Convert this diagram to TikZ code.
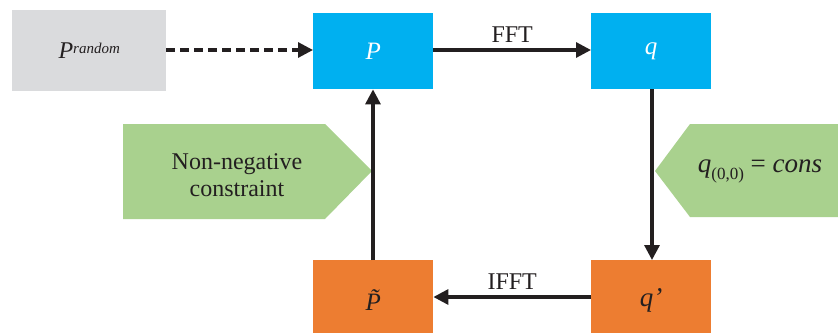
\documentclass[tikz,border=0pt]{standalone}
\usepackage{fontspec}
\setmainfont{Liberation Serif}
\usetikzlibrary{arrows.meta}
\definecolor{cblue}{HTML}{00B0F0}
\definecolor{corange}{HTML}{ED7D31}
\definecolor{cgreen}{HTML}{A9D18E}
\definecolor{cgray}{HTML}{DADBDD}
\definecolor{cline}{HTML}{231F20}
\tikzset{
  box/.style={minimum width=120pt, minimum height=76pt, inner sep=0pt, font=\fontsize{25}{30}\selectfont},
  conn/.style={draw=cline, line width=3.2pt, -{Triangle[length=15pt,width=15pt]}},
  lbl/.style={font=\fontsize{24}{27}\selectfont, text=cline},
}
\begin{document}
\begin{tikzpicture}[x=1pt,y=-1pt]
\useasboundingbox (0,0) rectangle (838,332);
\node[box, fill=cgray, minimum width=154pt, minimum height=81pt, anchor=north west, text=cline] (pr) at (12,10) {\fontsize{24}{28}\selectfont\itshape P\raisebox{5pt}{\fontsize{15}{18}\selectfont random}};
\node[box, fill=cblue, text=white, anchor=north west] (p) at (313,13) {\itshape P};
\node[box, fill=cblue, text=white, anchor=north west] (q) at (591,13) {\itshape q};
\node[box, fill=corange, text=cline, anchor=north west, minimum height=80pt] (pt) at (313,260) {\itshape \~{P}};
\node[box, fill=corange, text=cline, anchor=north west, minimum height=80pt] (qp) at (591,260) {\fontsize{27}{30}\selectfont\itshape q’};
% green pentagons
\fill[cgreen] (123,124) -- (325,124) -- (372,171) -- (325,219) -- (123,219) -- cycle;
\node[lbl, align=center] (nn) at (237,175) {Non-negative\\constraint};
\fill[cgreen] (838,124) -- (690,124) -- (655,171) -- (690,217) -- (838,217) -- cycle;
\node[lbl] (qc) at (760,171) {\fontsize{27}{30}\selectfont\itshape q\raisebox{-7pt}{\upshape\fontsize{17}{20}\selectfont (0,0)} \upshape= \itshape cons};
% connectors
\draw[conn, dash pattern=on 9pt off 5pt] (pr.east |- 0,50) -- (p.west |- 0,50);
\draw[conn] (p.east |- 0,50) -- node[lbl, above=3pt] {FFT} (q.west |- 0,50);
\draw[conn] (q.south -| 652,0) -- (qp.north -| 652,0);
\draw[conn] (qp.west |- 0,297) -- node[lbl, above=3pt] {IFFT} (pt.east |- 0,297);
\draw[conn] (pt.north -| 373,0) -- (p.south -| 373,0);
\end{tikzpicture}
\end{document}
